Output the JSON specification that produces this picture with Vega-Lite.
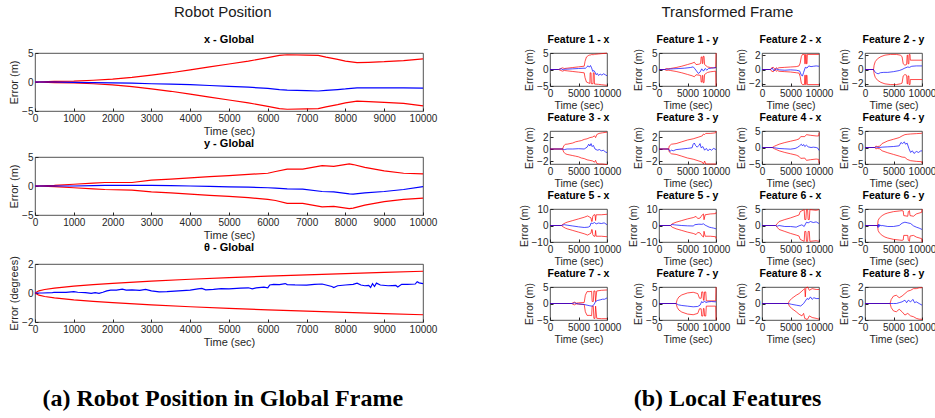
{
"$schema": "https://vega.github.io/schema/vega-lite/v6.json",
"background": "white",
"padding": {"left": 8, "top": 4, "right": 4, "bottom": 4},
"datasets": {
"xg": [
{"t":0,"up":0,"lo":0,"val":0},{"t":500,"up":0.1,"lo":-0.1,"val":0},{"t":1000,"up":0.15,"lo":-0.15,"val":-0.05},{"t":1500,"up":0.3,"lo":-0.3,"val":-0.1},{"t":2000,"up":0.5,"lo":-0.5,"val":-0.15},{"t":2500,"up":0.8,"lo":-0.8,"val":-0.2},{"t":3000,"up":1.2,"lo":-1.2,"val":-0.3},{"t":3500,"up":1.6,"lo":-1.6,"val":-0.35},{"t":4000,"up":2.1,"lo":-2.1,"val":-0.45},{"t":4500,"up":2.6,"lo":-2.6,"val":-0.6},{"t":5000,"up":3.1,"lo":-3.1,"val":-0.75},{"t":5500,"up":3.6,"lo":-3.6,"val":-0.9},{"t":6000,"up":4.2,"lo":-4.2,"val":-1.1},{"t":6300,"up":4.6,"lo":-4.6,"val":-1.3},{"t":6500,"up":4.7,"lo":-4.7,"val":-1.4},{"t":7000,"up":4.65,"lo":-4.65,"val":-1.5},{"t":7300,"up":4.6,"lo":-4.6,"val":-1.55},{"t":7500,"up":4.3,"lo":-4.3,"val":-1.45},{"t":7800,"up":3.9,"lo":-3.9,"val":-1.3},{"t":8000,"up":3.6,"lo":-3.6,"val":-1.2},{"t":8300,"up":3.35,"lo":-3.3,"val":-1.0},{"t":8600,"up":3.4,"lo":-3.4,"val":-1.0},{"t":9000,"up":3.5,"lo":-3.5,"val":-1.0},{"t":9500,"up":3.7,"lo":-3.7,"val":-1.0},{"t":10000,"up":4.0,"lo":-4.1,"val":-1.05}
],
"yg": [
{"t":0,"up":0,"lo":0,"val":0},{"t":500,"up":0.1,"lo":-0.1,"val":0},{"t":1000,"up":0.3,"lo":-0.3,"val":0},{"t":1500,"up":0.5,"lo":-0.5,"val":0.05},{"t":1800,"up":0.6,"lo":-0.6,"val":0.1},{"t":2500,"up":0.6,"lo":-0.7,"val":0.1},{"t":3000,"up":1.0,"lo":-1.0,"val":0.1},{"t":3500,"up":1.2,"lo":-1.2,"val":0.05},{"t":4000,"up":1.4,"lo":-1.4,"val":0},{"t":4500,"up":1.6,"lo":-1.6,"val":-0.05},{"t":5000,"up":1.8,"lo":-1.8,"val":-0.15},{"t":5500,"up":2.0,"lo":-2.0,"val":-0.2},{"t":6000,"up":2.2,"lo":-2.3,"val":-0.3},{"t":6200,"up":2.5,"lo":-2.5,"val":-0.35},{"t":6500,"up":2.9,"lo":-3.0,"val":-0.5},{"t":6900,"up":2.9,"lo":-3.0,"val":-0.55},{"t":7400,"up":3.5,"lo":-3.6,"val":-0.95},{"t":7700,"up":3.4,"lo":-3.5,"val":-1.0},{"t":8100,"up":3.8,"lo":-3.9,"val":-1.35},{"t":8200,"up":3.7,"lo":-3.8,"val":-1.4},{"t":8500,"up":3.2,"lo":-3.3,"val":-1.2},{"t":9000,"up":2.6,"lo":-2.7,"val":-0.95},{"t":9500,"up":2.2,"lo":-2.3,"val":-0.6},{"t":10000,"up":2.1,"lo":-2.1,"val":-0.1}
],
"tg": [
{"t":0,"up":0,"lo":0},{"t":100,"up":0.15,"lo":-0.15},{"t":250,"up":0.24,"lo":-0.24},{"t":500,"up":0.34,"lo":-0.34},{"t":1000,"up":0.48,"lo":-0.48},{"t":1500,"up":0.58,"lo":-0.58},{"t":2000,"up":0.67,"lo":-0.67},{"t":3000,"up":0.82,"lo":-0.82},{"t":4000,"up":0.95,"lo":-0.95},{"t":5000,"up":1.06,"lo":-1.06},{"t":6000,"up":1.16,"lo":-1.16},{"t":7000,"up":1.25,"lo":-1.25},{"t":8000,"up":1.34,"lo":-1.34},{"t":9000,"up":1.42,"lo":-1.42},{"t":10000,"up":1.5,"lo":-1.5},
{"t":0,"val":0},{"t":200,"val":0},{"t":450,"val":0.02},{"t":500,"val":0.05},{"t":800,"val":0.05},{"t":1000,"val":0.1},{"t":1100,"val":0.05},{"t":1300,"val":0.02},{"t":1450,"val":-0.03},{"t":1550,"val":0.02},{"t":1650,"val":-0.02},{"t":1750,"val":0.05},{"t":1850,"val":0.15},{"t":1950,"val":0.2},{"t":2100,"val":0.2},{"t":2250,"val":0.27},{"t":2350,"val":0.2},{"t":2500,"val":0.22},{"t":2700,"val":0.18},{"t":2850,"val":0.25},{"t":3000,"val":0.15},{"t":3200,"val":0.08},{"t":3400,"val":0.1},{"t":3700,"val":0.15},{"t":4000,"val":0.2},{"t":4200,"val":0.28},{"t":4300,"val":0.32},{"t":4400,"val":0.22},{"t":4600,"val":0.25},{"t":4800,"val":0.3},{"t":5000,"val":0.28},{"t":5300,"val":0.33},{"t":5500,"val":0.36},{"t":5600,"val":0.28},{"t":5700,"val":0.35},{"t":5900,"val":0.4},{"t":6000,"val":0.35},{"t":6050,"val":0.55},{"t":6150,"val":0.6},{"t":6300,"val":0.58},{"t":6450,"val":0.65},{"t":6500,"val":0.58},{"t":6700,"val":0.56},{"t":7000,"val":0.55},{"t":7200,"val":0.6},{"t":7400,"val":0.62},{"t":7500,"val":0.55},{"t":7650,"val":0.45},{"t":7700,"val":0.38},{"t":7800,"val":0.5},{"t":8000,"val":0.55},{"t":8200,"val":0.6},{"t":8300,"val":0.68},{"t":8400,"val":0.55},{"t":8500,"val":0.5},{"t":8600,"val":0.52},{"t":8650,"val":0.38},{"t":8700,"val":0.65},{"t":8750,"val":0.45},{"t":8800,"val":0.68},{"t":8900,"val":0.55},{"t":9100,"val":0.5},{"t":9300,"val":0.52},{"t":9350,"val":0.42},{"t":9450,"val":0.6},{"t":9600,"val":0.6},{"t":9800,"val":0.62},{"t":9850,"val":0.78},{"t":9900,"val":0.7},{"t":10000,"val":0.65}
],
"f1x": [
{"t":0,"up":0,"lo":0},{"t":1500,"up":0,"lo":0},{"t":1900,"up":0.3,"lo":-0.3},{"t":2200,"up":0.5,"lo":-0.5},{"t":2500,"up":0.3,"lo":-0.3},{"t":3000,"up":0.4,"lo":-0.4},{"t":4000,"up":0.6,"lo":-0.6},{"t":5000,"up":0.8,"lo":-0.8},{"t":6000,"up":1.0,"lo":-1.0},{"t":6150,"up":2.5,"lo":-2.5},{"t":6400,"up":3.8,"lo":-3.8},{"t":6800,"up":4.3,"lo":-4.1},{"t":7000,"up":4.4,"lo":-4.2},{"t":7050,"up":4.4,"lo":-1.0},{"t":7200,"up":4.4,"lo":-1.0},{"t":7250,"up":4.5,"lo":-4.3},{"t":7550,"up":4.5,"lo":-4.3},{"t":7600,"up":4.5,"lo":-1.0},{"t":7750,"up":4.5,"lo":-1.0},{"t":7800,"up":4.6,"lo":-4.4},{"t":8500,"up":4.7,"lo":-4.5},{"t":9000,"up":4.8,"lo":-4.6},{"t":10000,"up":4.95,"lo":-4.8},
{"t":0,"val":0},{"t":1500,"val":0},{"t":2000,"val":0.2},{"t":2300,"val":-0.1},{"t":2600,"val":0.1},{"t":3000,"val":0.1},{"t":4000,"val":0.2},{"t":5000,"val":0.3},{"t":6000,"val":0.4},{"t":6200,"val":0.3},{"t":6500,"val":0.9},{"t":6700,"val":1.1},{"t":6900,"val":0.7},{"t":7100,"val":1.2},{"t":7300,"val":0.5},{"t":7500,"val":-0.6},{"t":7700,"val":-0.3},{"t":7900,"val":-0.8},{"t":8100,"val":-1.6},{"t":8300,"val":-1.2},{"t":8500,"val":-1.8},{"t":8800,"val":-1.4},{"t":9100,"val":-1.7},{"t":9400,"val":-1.3},{"t":9700,"val":-1.6},{"t":10000,"val":-1.9}
],
"f1y": [
{"t":0,"up":0,"lo":0},{"t":1000,"up":0,"lo":0},{"t":1300,"up":0.3,"lo":-0.3},{"t":1600,"up":0.2,"lo":-0.2},{"t":2000,"up":0.3,"lo":-0.3},{"t":3000,"up":0.6,"lo":-0.6},{"t":4000,"up":1.0,"lo":-1.0},{"t":5000,"up":1.5,"lo":-1.5},{"t":5800,"up":1.9,"lo":-1.9},{"t":6200,"up":2.2,"lo":-2.2},{"t":6500,"up":1.5,"lo":-1.6},{"t":7000,"up":1.6,"lo":-1.7},{"t":7300,"up":1.8,"lo":-1.8},{"t":7400,"up":3.8,"lo":-3.8},{"t":7550,"up":3.8,"lo":-3.8},{"t":7600,"up":1.8,"lo":-1.8},{"t":7700,"up":1.8,"lo":-1.8},{"t":7750,"up":4.0,"lo":-4.0},{"t":7900,"up":4.0,"lo":-4.0},{"t":8000,"up":1.5,"lo":-1.5},{"t":8500,"up":0.8,"lo":-0.9},{"t":9000,"up":0.6,"lo":-0.7},{"t":9500,"up":0.5,"lo":-0.6},{"t":9950,"up":0.5,"lo":-0.5},{"t":10000,"up":5,"lo":-5},
{"t":0,"val":0},{"t":1000,"val":0},{"t":1500,"val":0.1},{"t":2500,"val":0.2},{"t":3500,"val":0.3},{"t":4500,"val":0.4},{"t":5500,"val":0.6},{"t":6000,"val":0.8},{"t":6300,"val":0.2},{"t":6600,"val":-0.5},{"t":6900,"val":-1.2},{"t":7200,"val":-0.8},{"t":7500,"val":0.2},{"t":7800,"val":-0.5},{"t":8100,"val":0.3},{"t":8400,"val":-0.2},{"t":8700,"val":0.3},{"t":9200,"val":0.4},{"t":9600,"val":0.5},{"t":10000,"val":0.6}
],
"f2x": [
{"t":0,"up":0,"lo":0},{"t":1500,"up":0,"lo":0},{"t":1700,"up":0.25,"lo":-0.25},{"t":2000,"up":0.3,"lo":-0.3},{"t":2300,"up":0,"lo":0},{"t":2500,"up":0.25,"lo":-0.25},{"t":2700,"up":0.15,"lo":-0.15},{"t":3000,"up":0.25,"lo":-0.25},{"t":4000,"up":0.3,"lo":-0.3},{"t":5000,"up":0.35,"lo":-0.35},{"t":6000,"up":0.4,"lo":-0.45},{"t":6500,"up":0.5,"lo":-0.5},{"t":6700,"up":0.9,"lo":-1.0},{"t":6900,"up":1.8,"lo":-1.9},{"t":7100,"up":2.1,"lo":-2.1},{"t":7450,"up":2.1,"lo":-2.1},{"t":7500,"up":0.8,"lo":-0.8},{"t":7600,"up":0.8,"lo":-0.8},{"t":7650,"up":2.1,"lo":-2.1},{"t":7750,"up":2.1,"lo":-2.1},{"t":7800,"up":0.8,"lo":-0.8},{"t":7900,"up":0.8,"lo":-0.8},{"t":7950,"up":2.1,"lo":-2.1},{"t":10000,"up":2.1,"lo":-2.1},
{"t":0,"val":0},{"t":1500,"val":0},{"t":1800,"val":0.2},{"t":2100,"val":-0.2},{"t":2400,"val":0.1},{"t":3000,"val":-0.05},{"t":4000,"val":-0.1},{"t":5000,"val":-0.05},{"t":6000,"val":-0.1},{"t":6600,"val":-0.2},{"t":6900,"val":-0.8},{"t":7100,"val":-0.9},{"t":7300,"val":-0.4},{"t":7600,"val":0.3},{"t":7900,"val":0.2},{"t":8200,"val":0.5},{"t":8600,"val":0.4},{"t":9000,"val":0.45},{"t":9500,"val":0.5},{"t":10000,"val":0.45}
],
"f2y": [
{"t":0,"up":0,"lo":0},{"t":1500,"up":0,"lo":0},{"t":1600,"up":0.6,"lo":-0.6},{"t":1800,"up":1.1,"lo":-1.1},{"t":2200,"up":1.5,"lo":-1.5},{"t":2800,"up":1.8,"lo":-1.8},{"t":3500,"up":2.0,"lo":-2.0},{"t":4500,"up":2.1,"lo":-2.1},{"t":5500,"up":2.1,"lo":-2.1},{"t":6200,"up":2.0,"lo":-2.0},{"t":6500,"up":1.8,"lo":-1.9},{"t":6700,"up":0.8,"lo":-0.9},{"t":7000,"up":0.6,"lo":-0.7},{"t":7300,"up":0.7,"lo":-0.8},{"t":7400,"up":2.0,"lo":-2.0},{"t":7500,"up":2.0,"lo":-2.0},{"t":7550,"up":0.8,"lo":-0.9},{"t":7700,"up":0.8,"lo":-0.9},{"t":7750,"up":2.1,"lo":-2.1},{"t":7900,"up":2.1,"lo":-2.1},{"t":7950,"up":1.3,"lo":-1.4},{"t":10000,"up":1.3,"lo":-1.4},
{"t":0,"val":0},{"t":1500,"val":0},{"t":1700,"val":-0.3},{"t":2000,"val":-0.5},{"t":2300,"val":-0.6},{"t":2700,"val":-0.45},{"t":3300,"val":-0.4},{"t":4000,"val":-0.4},{"t":5000,"val":-0.3},{"t":6000,"val":-0.15},{"t":6500,"val":0},{"t":7000,"val":0.2},{"t":7500,"val":0.35},{"t":7800,"val":0.3},{"t":8200,"val":0.45},{"t":9000,"val":0.5},{"t":10000,"val":0.5}
],
"f3x": [
{"t":0,"up":0,"lo":0},{"t":2200,"up":0,"lo":0},{"t":2400,"up":0.5,"lo":-0.5},{"t":2700,"up":0.8,"lo":-0.8},{"t":3000,"up":0.8,"lo":-0.9},{"t":3500,"up":0.9,"lo":-1.0},{"t":4000,"up":1.0,"lo":-1.1},{"t":4500,"up":1.2,"lo":-1.2},{"t":5000,"up":1.3,"lo":-1.3},{"t":5500,"up":1.4,"lo":-1.5},{"t":6000,"up":1.6,"lo":-1.6},{"t":6500,"up":1.7,"lo":-1.8},{"t":7000,"up":1.9,"lo":-1.9},{"t":7500,"up":2.0,"lo":-2.0},{"t":7800,"up":2.2,"lo":-2.2},{"t":8000,"up":1.9,"lo":-1.9},{"t":8200,"up":2.4,"lo":-2.4},{"t":8600,"up":2.6,"lo":-2.5},{"t":9200,"up":2.7,"lo":-2.5},{"t":10000,"up":2.8,"lo":-2.6},
{"t":0,"val":0},{"t":2200,"val":0},{"t":2500,"val":-0.1},{"t":3000,"val":0},{"t":4000,"val":0},{"t":5000,"val":0.05},{"t":6000,"val":0},{"t":6500,"val":0.3},{"t":6800,"val":0.8},{"t":7000,"val":0.5},{"t":7200,"val":0.9},{"t":7400,"val":0.4},{"t":7600,"val":0.6},{"t":7900,"val":0},{"t":8300,"val":-0.2},{"t":8700,"val":-0.1},{"t":9000,"val":-0.3},{"t":9400,"val":-0.2},{"t":9700,"val":-0.5},{"t":10000,"val":-0.6}
],
"f3y": [
{"t":0,"up":0,"lo":0},{"t":1700,"up":0,"lo":0},{"t":1800,"up":0.5,"lo":-0.5},{"t":2200,"up":0.8,"lo":-0.8},{"t":3000,"up":0.9,"lo":-0.9},{"t":4000,"up":1.2,"lo":-1.2},{"t":5000,"up":1.5,"lo":-1.5},{"t":6000,"up":1.7,"lo":-1.7},{"t":7000,"up":2.0,"lo":-2.0},{"t":7600,"up":2.2,"lo":-2.2},{"t":7800,"up":2.5,"lo":-2.5},{"t":8000,"up":2.4,"lo":-2.0},{"t":8200,"up":2.6,"lo":-2.5},{"t":9000,"up":2.6,"lo":-2.5},{"t":9950,"up":2.7,"lo":-2.5},{"t":10000,"up":3,"lo":-2.5},
{"t":0,"val":0},{"t":1700,"val":0},{"t":1900,"val":-0.4},{"t":2200,"val":-0.2},{"t":2500,"val":-0.3},{"t":3000,"val":-0.1},{"t":4000,"val":0},{"t":5000,"val":0.1},{"t":5800,"val":0.2},{"t":6000,"val":0.8},{"t":6200,"val":1.0},{"t":6400,"val":0.6},{"t":6700,"val":0.3},{"t":7000,"val":0.6},{"t":7200,"val":0.9},{"t":7400,"val":0.2},{"t":7700,"val":0.4},{"t":8000,"val":-0.2},{"t":8300,"val":0.1},{"t":8600,"val":-0.3},{"t":8900,"val":0},{"t":9200,"val":-0.2},{"t":9600,"val":0.1},{"t":10000,"val":-0.1}
],
"f4x": [
{"t":0,"up":0,"lo":0},{"t":1800,"up":0,"lo":0},{"t":2200,"up":0.4,"lo":-0.4},{"t":2600,"up":0.7,"lo":-0.7},{"t":3000,"up":1.0,"lo":-1.0},{"t":4000,"up":1.5,"lo":-1.5},{"t":5000,"up":1.9,"lo":-1.9},{"t":6000,"up":2.3,"lo":-2.3},{"t":6500,"up":2.6,"lo":-2.7},{"t":6800,"up":3.3,"lo":-3.3},{"t":7500,"up":3.3,"lo":-3.2},{"t":7800,"up":3.9,"lo":-3.9},{"t":8500,"up":3.7,"lo":-3.7},{"t":9500,"up":3.5,"lo":-3.5},{"t":9950,"up":3.5,"lo":-3.6},{"t":10000,"up":4.5,"lo":-4.8},
{"t":0,"val":0},{"t":1800,"val":0},{"t":2200,"val":-0.1},{"t":3000,"val":-0.3},{"t":4000,"val":-0.4},{"t":5000,"val":-0.5},{"t":5800,"val":-0.3},{"t":6200,"val":0},{"t":6600,"val":0.5},{"t":6900,"val":1.0},{"t":7100,"val":0.5},{"t":7300,"val":0.9},{"t":7500,"val":0.3},{"t":7800,"val":0.7},{"t":8100,"val":0.2},{"t":8600,"val":0},{"t":9000,"val":0.1},{"t":9500,"val":0},{"t":9800,"val":-0.2},{"t":10000,"val":-0.9}
],
"f4y": [
{"t":0,"up":0,"lo":0},{"t":1700,"up":0,"lo":0},{"t":1900,"up":0.4,"lo":-0.4},{"t":2200,"up":0.3,"lo":-0.3},{"t":2600,"up":0.4,"lo":-0.4},{"t":3000,"up":1.2,"lo":-1.0},{"t":4000,"up":2.0,"lo":-1.6},{"t":5000,"up":2.5,"lo":-2.1},{"t":6000,"up":3.0,"lo":-2.6},{"t":6500,"up":3.5,"lo":-2.9},{"t":7000,"up":3.9,"lo":-3.0},{"t":7400,"up":4.0,"lo":-3.6},{"t":8000,"up":4.1,"lo":-4.0},{"t":9000,"up":4.2,"lo":-4.2},{"t":9950,"up":4.3,"lo":-4.3},{"t":10000,"up":4.5,"lo":-4.8},
{"t":0,"val":0},{"t":1700,"val":0},{"t":2000,"val":0.1},{"t":2500,"val":0},{"t":3000,"val":0.1},{"t":4000,"val":0.2},{"t":5000,"val":0.3},{"t":6000,"val":0.5},{"t":6300,"val":1.5},{"t":6600,"val":1.2},{"t":6900,"val":1.7},{"t":7100,"val":1.0},{"t":7400,"val":1.3},{"t":7700,"val":-0.3},{"t":8000,"val":-1.5},{"t":8300,"val":-1.0},{"t":8600,"val":-1.8},{"t":9000,"val":-1.2},{"t":9400,"val":-1.5},{"t":9700,"val":-1.1},{"t":10000,"val":-1.0}
],
"f5x": [
{"t":0,"up":0,"lo":0},{"t":2000,"up":0,"lo":0},{"t":2300,"up":0.8,"lo":-0.8},{"t":2700,"up":1.6,"lo":-1.6},{"t":3000,"up":2.0,"lo":-2.0},{"t":4000,"up":3.0,"lo":-3.0},{"t":5000,"up":4.0,"lo":-4.0},{"t":6000,"up":5.0,"lo":-5.0},{"t":6600,"up":5.8,"lo":-5.8},{"t":7000,"up":5.0,"lo":-5.0},{"t":7200,"up":4.6,"lo":-4.6},{"t":7300,"up":2.5,"lo":-2.5},{"t":7400,"up":2.5,"lo":-2.5},{"t":7500,"up":5.5,"lo":-5.5},{"t":7700,"up":6.5,"lo":-6.5},{"t":7900,"up":6.5,"lo":-6.5},{"t":8000,"up":3.0,"lo":-3.0},{"t":8100,"up":6.5,"lo":-6.5},{"t":9000,"up":6.5,"lo":-6.5},{"t":10000,"up":6.8,"lo":-6.8},
{"t":0,"val":0},{"t":2000,"val":0},{"t":2500,"val":0.5},{"t":3000,"val":0.2},{"t":4000,"val":-0.3},{"t":5000,"val":-0.8},{"t":6000,"val":-1.2},{"t":6700,"val":-1.0},{"t":7000,"val":-0.5},{"t":7200,"val":1.5},{"t":7500,"val":1.2},{"t":7800,"val":1.8},{"t":8100,"val":1.0},{"t":8500,"val":1.5},{"t":9000,"val":1.2},{"t":9500,"val":1.6},{"t":10000,"val":0.5}
],
"f5y": [
{"t":0,"up":0,"lo":0},{"t":2000,"up":0,"lo":0},{"t":2300,"up":1.0,"lo":-1.0},{"t":3000,"up":2.0,"lo":-2.0},{"t":4000,"up":3.0,"lo":-3.0},{"t":5000,"up":4.0,"lo":-4.0},{"t":6000,"up":4.8,"lo":-4.8},{"t":6500,"up":5.5,"lo":-5.5},{"t":6800,"up":4.2,"lo":-4.2},{"t":7200,"up":4.5,"lo":-4.5},{"t":7400,"up":5.5,"lo":-5.5},{"t":7600,"up":6.5,"lo":-6.5},{"t":7800,"up":7.0,"lo":-7.0},{"t":7900,"up":3.5,"lo":-3.5},{"t":8100,"up":6.5,"lo":-6.5},{"t":9000,"up":7.0,"lo":-6.5},{"t":9950,"up":7.2,"lo":-6.8},{"t":10000,"up":8,"lo":-8},
{"t":0,"val":0},{"t":2000,"val":0},{"t":2300,"val":0.6},{"t":2700,"val":0.4},{"t":3000,"val":0.3},{"t":4000,"val":0},{"t":5000,"val":-0.2},{"t":6000,"val":-0.3},{"t":6300,"val":0.5},{"t":7000,"val":0.8},{"t":7500,"val":0.7},{"t":7800,"val":1.0},{"t":8100,"val":0.2},{"t":8400,"val":-0.3},{"t":8800,"val":-1.0},{"t":9200,"val":-1.3},{"t":9600,"val":-1.6},{"t":10000,"val":-2.0}
],
"f6x": [
{"t":0,"up":0,"lo":0},{"t":2400,"up":0,"lo":0},{"t":2700,"up":0.6,"lo":-0.6},{"t":3000,"up":1.2,"lo":-1.2},{"t":4000,"up":1.8,"lo":-1.8},{"t":5000,"up":2.3,"lo":-2.4},{"t":6000,"up":2.9,"lo":-2.9},{"t":6500,"up":3.2,"lo":-3.2},{"t":6700,"up":4.2,"lo":-4.2},{"t":7400,"up":4.8,"lo":-4.8},{"t":7500,"up":1.8,"lo":-1.8},{"t":7700,"up":1.8,"lo":-1.8},{"t":7800,"up":4.8,"lo":-4.8},{"t":8000,"up":4.8,"lo":-4.8},{"t":8100,"up":1.8,"lo":-1.8},{"t":8300,"up":1.8,"lo":-1.8},{"t":8400,"up":4.8,"lo":-4.8},{"t":9500,"up":4.6,"lo":-4.6},{"t":10000,"up":4.8,"lo":-4.8},
{"t":0,"val":0},{"t":2400,"val":0},{"t":2700,"val":-0.2},{"t":3000,"val":0},{"t":4000,"val":-0.3},{"t":5000,"val":-0.3},{"t":6000,"val":-0.5},{"t":6500,"val":-0.1},{"t":7000,"val":0.2},{"t":7400,"val":-0.3},{"t":7800,"val":1.0},{"t":8100,"val":0.8},{"t":8500,"val":1.2},{"t":9000,"val":0.9},{"t":9500,"val":1.1},{"t":10000,"val":0.6}
],
"f6y": [
{"t":0,"up":0,"lo":0},{"t":2200,"up":0,"lo":0},{"t":2300,"up":1.5,"lo":-1.5},{"t":2500,"up":2.2,"lo":-2.2},{"t":3000,"up":3.0,"lo":-3.0},{"t":3500,"up":3.5,"lo":-3.5},{"t":4000,"up":3.8,"lo":-3.8},{"t":5000,"up":4.2,"lo":-4.2},{"t":6000,"up":4.4,"lo":-4.4},{"t":6500,"up":4.5,"lo":-4.5},{"t":6700,"up":4.4,"lo":-4.4},{"t":6800,"up":3.0,"lo":-3.0},{"t":7500,"up":2.8,"lo":-3.0},{"t":7600,"up":4.2,"lo":-4.5},{"t":7800,"up":4.5,"lo":-4.8},{"t":7900,"up":3.0,"lo":-3.2},{"t":8500,"up":2.8,"lo":-3.0},{"t":9000,"up":3.5,"lo":-3.5},{"t":9950,"up":4.0,"lo":-4.0},{"t":10000,"up":5,"lo":-5},
{"t":0,"val":0},{"t":2200,"val":0},{"t":2300,"val":-0.6},{"t":2400,"val":0.4},{"t":2500,"val":-0.3},{"t":2600,"val":0.2},{"t":2800,"val":-0.1},{"t":3000,"val":0},{"t":4000,"val":-0.3},{"t":5000,"val":-0.3},{"t":6000,"val":0},{"t":6500,"val":0.7},{"t":7000,"val":1.0},{"t":7500,"val":0.8},{"t":8000,"val":0.6},{"t":8500,"val":-0.1},{"t":9000,"val":-0.5},{"t":9500,"val":-0.8},{"t":10000,"val":-1.2}
],
"f7x": [
{"t":0,"up":0,"lo":0},{"t":3800,"up":0,"lo":0},{"t":4000,"up":0.2,"lo":-0.2},{"t":4300,"up":0.4,"lo":-0.4},{"t":4600,"up":0.1,"lo":-0.1},{"t":5000,"up":0.2,"lo":-0.2},{"t":6000,"up":0.3,"lo":-0.3},{"t":6200,"up":2.5,"lo":-2.5},{"t":6500,"up":3.6,"lo":-3.6},{"t":7000,"up":3.6,"lo":-3.6},{"t":7300,"up":3.7,"lo":-3.7},{"t":7400,"up":0.6,"lo":-0.8},{"t":7600,"up":0.6,"lo":-0.8},{"t":7700,"up":3.8,"lo":-4.5},{"t":7900,"up":3.8,"lo":-4.5},{"t":8000,"up":0.6,"lo":-0.8},{"t":8200,"up":3.8,"lo":-4.5},{"t":9000,"up":4.0,"lo":-4.6},{"t":10000,"up":4.1,"lo":-4.6},
{"t":0,"val":0},{"t":4000,"val":0},{"t":4300,"val":0.2},{"t":4600,"val":0},{"t":5000,"val":-0.1},{"t":6000,"val":-0.3},{"t":6500,"val":-0.5},{"t":7000,"val":-0.7},{"t":7400,"val":-0.8},{"t":7700,"val":-0.4},{"t":8000,"val":0.6},{"t":8300,"val":0.9},{"t":8800,"val":1.1},{"t":9200,"val":1.3},{"t":9600,"val":1.3},{"t":10000,"val":1.7}
],
"f7y": [
{"t":0,"up":0,"lo":0},{"t":3000,"up":0,"lo":0},{"t":3200,"up":1.2,"lo":-1.2},{"t":3500,"up":2.0,"lo":-2.0},{"t":4000,"up":2.6,"lo":-2.6},{"t":5000,"up":3.2,"lo":-3.2},{"t":6000,"up":3.4,"lo":-3.4},{"t":6800,"up":3.0,"lo":-3.0},{"t":7100,"up":1.6,"lo":-1.6},{"t":7400,"up":1.6,"lo":-1.6},{"t":7500,"up":3.5,"lo":-3.8},{"t":7700,"up":3.5,"lo":-3.8},{"t":7800,"up":1.0,"lo":-1.5},{"t":7900,"up":1.0,"lo":-1.5},{"t":8000,"up":3.5,"lo":-3.8},{"t":8200,"up":3.5,"lo":-3.8},{"t":8300,"up":0.8,"lo":-0.8},{"t":9950,"up":0.8,"lo":-0.8},{"t":10000,"up":5,"lo":-5},
{"t":0,"val":0},{"t":3000,"val":0},{"t":3400,"val":-0.4},{"t":4000,"val":-0.6},{"t":5000,"val":-0.8},{"t":6000,"val":-1.0},{"t":6800,"val":-0.9},{"t":7200,"val":-0.5},{"t":7500,"val":0.6},{"t":7700,"val":0.2},{"t":8000,"val":0.8},{"t":8200,"val":0.3},{"t":8600,"val":0.5},{"t":9200,"val":0.6},{"t":10000,"val":0.5}
],
"f8x": [
{"t":0,"up":0,"lo":0},{"t":4600,"up":0,"lo":0},{"t":4800,"up":0.3,"lo":-0.3},{"t":5200,"up":0.6,"lo":-0.6},{"t":5600,"up":0.8,"lo":-0.8},{"t":6000,"up":1.0,"lo":-1.0},{"t":6500,"up":1.2,"lo":-1.3},{"t":7000,"up":1.5,"lo":-1.5},{"t":7300,"up":1.7,"lo":-1.2},{"t":7500,"up":1.8,"lo":-1.8},{"t":7600,"up":0.8,"lo":-1.8},{"t":7700,"up":1.9,"lo":-1.9},{"t":8000,"up":2.0,"lo":-1.9},{"t":8300,"up":1.6,"lo":-1.5},{"t":8800,"up":1.8,"lo":-1.7},{"t":9500,"up":1.7,"lo":-1.8},{"t":10000,"up":1.7,"lo":-1.9},
{"t":0,"val":0},{"t":4600,"val":0},{"t":5200,"val":-0.1},{"t":6000,"val":-0.2},{"t":6800,"val":-0.3},{"t":7300,"val":0},{"t":7600,"val":0.3},{"t":7900,"val":0.6},{"t":8200,"val":0.5},{"t":8500,"val":0.8},{"t":8800,"val":0.5},{"t":9100,"val":0.7},{"t":9500,"val":0.6},{"t":10000,"val":0.6}
],
"f8y": [
{"t":0,"up":0,"lo":0},{"t":4400,"up":0,"lo":0},{"t":4600,"up":0.5,"lo":-0.5},{"t":5000,"up":0.9,"lo":-0.9},{"t":5500,"up":1.0,"lo":-1.0},{"t":6000,"up":0.7,"lo":-0.7},{"t":6500,"up":0.9,"lo":-1.0},{"t":7000,"up":1.2,"lo":-1.4},{"t":7500,"up":1.5,"lo":-1.2},{"t":8000,"up":1.6,"lo":-1.5},{"t":8500,"up":1.8,"lo":-1.6},{"t":9000,"up":1.8,"lo":-1.8},{"t":9500,"up":1.9,"lo":-1.9},{"t":9950,"up":1.9,"lo":-1.9},{"t":10000,"up":2,"lo":-2},
{"t":0,"val":0},{"t":4400,"val":0},{"t":5000,"val":0},{"t":5500,"val":0},{"t":6000,"val":0.1},{"t":6500,"val":0.2},{"t":7000,"val":0.4},{"t":7300,"val":0.1},{"t":7600,"val":0.4},{"t":8000,"val":0.2},{"t":8400,"val":0.5},{"t":8700,"val":0.1},{"t":9000,"val":0.2},{"t":9500,"val":0},{"t":10000,"val":-0.2}
]
},
"spacing": 80,
"hconcat": [
{"title": {"text": "(a) Robot Position in Global Frame", "orient": "bottom", "anchor": "middle", "font": "Liberation Serif", "fontSize": 24, "fontWeight": "bold", "color": "#000000", "offset": 40},
 "vconcat": [
 {"title": {"text": "Robot Position", "anchor": "middle", "fontSize": 15, "fontWeight": "normal", "color": "#1a1a1a", "offset": 14},
  "spacing": 0,
  "vconcat": [
  {"title": {"text": "x - Global", "fontSize": 11}, "width": 388, "height": 58, "data": {"name": "xg"},
   "transform": [{"fold": ["up","lo","val"]},{"filter": "isValid(datum.value)"}],
   "mark": {"type": "line", "strokeWidth": 1.2},
   "encoding": {
    "x": {"field": "t", "type": "quantitative", "scale": {"domain": [0,10000], "nice": false}, "axis": {"values": [0,1000,2000,3000,4000,5000,6000,7000,8000,9000,10000], "format": "d", "title": "Time (sec)", "titleFontSize": 11}},
    "y": {"field": "value", "type": "quantitative", "scale": {"domain": [-5,5], "nice": false}, "axis": {"values": [-5,0,5], "title": "Error (m)", "titleFontSize": 11}},
    "color": {"field": "key", "type": "nominal", "scale": {"domain": ["up","lo","val"], "range": ["#ff0000","#ff0000","#0000ff"]}, "legend": null}}},
  {"title": {"text": "y - Global", "fontSize": 11}, "width": 388, "height": 58, "data": {"name": "yg"},
   "transform": [{"fold": ["up","lo","val"]},{"filter": "isValid(datum.value)"}],
   "mark": {"type": "line", "strokeWidth": 1.2},
   "encoding": {
    "x": {"field": "t", "type": "quantitative", "scale": {"domain": [0,10000], "nice": false}, "axis": {"values": [0,1000,2000,3000,4000,5000,6000,7000,8000,9000,10000], "format": "d", "title": "Time (sec)", "titleFontSize": 11}},
    "y": {"field": "value", "type": "quantitative", "scale": {"domain": [-5,5], "nice": false}, "axis": {"values": [-5,0,5], "title": "Error (m)", "titleFontSize": 11}},
    "color": {"field": "key", "type": "nominal", "scale": {"domain": ["up","lo","val"], "range": ["#ff0000","#ff0000","#0000ff"]}, "legend": null}}},
  {"title": {"text": "θ - Global", "fontSize": 11}, "width": 388, "height": 58, "data": {"name": "tg"},
   "transform": [{"fold": ["up","lo","val"]},{"filter": "isValid(datum.value)"}],
   "mark": {"type": "line", "strokeWidth": 1.2},
   "encoding": {
    "x": {"field": "t", "type": "quantitative", "scale": {"domain": [0,10000], "nice": false}, "axis": {"values": [0,1000,2000,3000,4000,5000,6000,7000,8000,9000,10000], "format": "d", "title": "Time (sec)", "titleFontSize": 11}},
    "y": {"field": "value", "type": "quantitative", "scale": {"domain": [-2,2], "nice": false}, "axis": {"values": [-2,0,2], "title": "Error (degrees)", "titleFontSize": 11}},
    "color": {"field": "key", "type": "nominal", "scale": {"domain": ["up","lo","val"], "range": ["#ff0000","#ff0000","#0000ff"]}, "legend": null}}}
  ]}
 ]},
{"title": {"text": "(b) Local Features", "orient": "bottom", "anchor": "middle", "font": "Liberation Serif", "fontSize": 24, "fontWeight": "bold", "color": "#000000", "offset": 42},
 "vconcat": [
 {"title": {"text": "Transformed Frame", "anchor": "middle", "fontSize": 15, "fontWeight": "normal", "color": "#1a1a1a", "offset": 14},
  "columns": 4,
  "spacing": {"row": 1, "column": 5},
  "concat": [
  {"title": "Feature 1 - x", "width": 57, "height": 33, "data": {"name": "f1x"}, "transform": [{"fold": ["up","lo","val"]},{"filter": "isValid(datum.value)"}], "mark": {"type": "line", "strokeWidth": 0.7},
   "encoding": {"x": {"field": "t", "type": "quantitative", "scale": {"domain": [0,10000], "nice": false}, "axis": {"values": [0,5000,10000], "format": "d", "title": "Time (sec)"}}, "y": {"field": "value", "type": "quantitative", "scale": {"domain": [-5,5], "nice": false}, "axis": {"values": [-5,0,5], "title": "Error (m)"}}, "color": {"field": "key", "type": "nominal", "scale": {"domain": ["up","lo","val"], "range": ["#ff0000","#ff0000","#0000ff"]}, "legend": null}}},
  {"title": "Feature 1 - y", "width": 57, "height": 33, "data": {"name": "f1y"}, "transform": [{"fold": ["up","lo","val"]},{"filter": "isValid(datum.value)"}], "mark": {"type": "line", "strokeWidth": 0.7},
   "encoding": {"x": {"field": "t", "type": "quantitative", "scale": {"domain": [0,10000], "nice": false}, "axis": {"values": [0,5000,10000], "format": "d", "title": "Time (sec)"}}, "y": {"field": "value", "type": "quantitative", "scale": {"domain": [-5,5], "nice": false}, "axis": {"values": [-5,0,5], "title": "Error (m)"}}, "color": {"field": "key", "type": "nominal", "scale": {"domain": ["up","lo","val"], "range": ["#ff0000","#ff0000","#0000ff"]}, "legend": null}}},
  {"title": "Feature 2 - x", "width": 57, "height": 33, "data": {"name": "f2x"}, "transform": [{"fold": ["up","lo","val"]},{"filter": "isValid(datum.value)"}], "mark": {"type": "line", "strokeWidth": 0.7},
   "encoding": {"x": {"field": "t", "type": "quantitative", "scale": {"domain": [0,10000], "nice": false}, "axis": {"values": [0,5000,10000], "format": "d", "title": "Time (sec)"}}, "y": {"field": "value", "type": "quantitative", "scale": {"domain": [-2.3,2.3], "nice": false}, "axis": {"values": [-2,0,2], "title": "Error (m)"}}, "color": {"field": "key", "type": "nominal", "scale": {"domain": ["up","lo","val"], "range": ["#ff0000","#ff0000","#0000ff"]}, "legend": null}}},
  {"title": "Feature 2 - y", "width": 57, "height": 33, "data": {"name": "f2y"}, "transform": [{"fold": ["up","lo","val"]},{"filter": "isValid(datum.value)"}], "mark": {"type": "line", "strokeWidth": 0.7},
   "encoding": {"x": {"field": "t", "type": "quantitative", "scale": {"domain": [0,10000], "nice": false}, "axis": {"values": [0,5000,10000], "format": "d", "title": "Time (sec)"}}, "y": {"field": "value", "type": "quantitative", "scale": {"domain": [-2.3,2.3], "nice": false}, "axis": {"values": [-2,0,2], "title": "Error (m)"}}, "color": {"field": "key", "type": "nominal", "scale": {"domain": ["up","lo","val"], "range": ["#ff0000","#ff0000","#0000ff"]}, "legend": null}}},
  {"title": "Feature 3 - x", "width": 57, "height": 33, "data": {"name": "f3x"}, "transform": [{"fold": ["up","lo","val"]},{"filter": "isValid(datum.value)"}], "mark": {"type": "line", "strokeWidth": 0.7},
   "encoding": {"x": {"field": "t", "type": "quantitative", "scale": {"domain": [0,10000], "nice": false}, "axis": {"values": [0,5000,10000], "format": "d", "title": "Time (sec)"}}, "y": {"field": "value", "type": "quantitative", "scale": {"domain": [-2.5,3], "nice": false}, "axis": {"values": [-2,0,2], "title": "Error (m)"}}, "color": {"field": "key", "type": "nominal", "scale": {"domain": ["up","lo","val"], "range": ["#ff0000","#ff0000","#0000ff"]}, "legend": null}}},
  {"title": "Feature 3 - y", "width": 57, "height": 33, "data": {"name": "f3y"}, "transform": [{"fold": ["up","lo","val"]},{"filter": "isValid(datum.value)"}], "mark": {"type": "line", "strokeWidth": 0.7},
   "encoding": {"x": {"field": "t", "type": "quantitative", "scale": {"domain": [0,10000], "nice": false}, "axis": {"values": [0,5000,10000], "format": "d", "title": "Time (sec)"}}, "y": {"field": "value", "type": "quantitative", "scale": {"domain": [-2.5,3], "nice": false}, "axis": {"values": [-2,0,2], "title": "Error (m)"}}, "color": {"field": "key", "type": "nominal", "scale": {"domain": ["up","lo","val"], "range": ["#ff0000","#ff0000","#0000ff"]}, "legend": null}}},
  {"title": "Feature 4 - x", "width": 57, "height": 33, "data": {"name": "f4x"}, "transform": [{"fold": ["up","lo","val"]},{"filter": "isValid(datum.value)"}], "mark": {"type": "line", "strokeWidth": 0.7},
   "encoding": {"x": {"field": "t", "type": "quantitative", "scale": {"domain": [0,10000], "nice": false}, "axis": {"values": [0,5000,10000], "format": "d", "title": "Time (sec)"}}, "y": {"field": "value", "type": "quantitative", "scale": {"domain": [-5,5], "nice": false}, "axis": {"values": [-5,0,5], "title": "Error (m)"}}, "color": {"field": "key", "type": "nominal", "scale": {"domain": ["up","lo","val"], "range": ["#ff0000","#ff0000","#0000ff"]}, "legend": null}}},
  {"title": "Feature 4 - y", "width": 57, "height": 33, "data": {"name": "f4y"}, "transform": [{"fold": ["up","lo","val"]},{"filter": "isValid(datum.value)"}], "mark": {"type": "line", "strokeWidth": 0.7},
   "encoding": {"x": {"field": "t", "type": "quantitative", "scale": {"domain": [0,10000], "nice": false}, "axis": {"values": [0,5000,10000], "format": "d", "title": "Time (sec)"}}, "y": {"field": "value", "type": "quantitative", "scale": {"domain": [-5,5], "nice": false}, "axis": {"values": [-5,0,5], "title": "Error (m)"}}, "color": {"field": "key", "type": "nominal", "scale": {"domain": ["up","lo","val"], "range": ["#ff0000","#ff0000","#0000ff"]}, "legend": null}}},
  {"title": "Feature 5 - x", "width": 57, "height": 33, "data": {"name": "f5x"}, "transform": [{"fold": ["up","lo","val"]},{"filter": "isValid(datum.value)"}], "mark": {"type": "line", "strokeWidth": 0.7},
   "encoding": {"x": {"field": "t", "type": "quantitative", "scale": {"domain": [0,10000], "nice": false}, "axis": {"values": [0,5000,10000], "format": "d", "title": "Time (sec)"}}, "y": {"field": "value", "type": "quantitative", "scale": {"domain": [-10,10], "nice": false}, "axis": {"values": [-10,0,10], "title": "Error (m)"}}, "color": {"field": "key", "type": "nominal", "scale": {"domain": ["up","lo","val"], "range": ["#ff0000","#ff0000","#0000ff"]}, "legend": null}}},
  {"title": "Feature 5 - y", "width": 57, "height": 33, "data": {"name": "f5y"}, "transform": [{"fold": ["up","lo","val"]},{"filter": "isValid(datum.value)"}], "mark": {"type": "line", "strokeWidth": 0.7},
   "encoding": {"x": {"field": "t", "type": "quantitative", "scale": {"domain": [0,10000], "nice": false}, "axis": {"values": [0,5000,10000], "format": "d", "title": "Time (sec)"}}, "y": {"field": "value", "type": "quantitative", "scale": {"domain": [-10,10], "nice": false}, "axis": {"values": [-10,0,10], "title": "Error (m)"}}, "color": {"field": "key", "type": "nominal", "scale": {"domain": ["up","lo","val"], "range": ["#ff0000","#ff0000","#0000ff"]}, "legend": null}}},
  {"title": "Feature 6 - x", "width": 57, "height": 33, "data": {"name": "f6x"}, "transform": [{"fold": ["up","lo","val"]},{"filter": "isValid(datum.value)"}], "mark": {"type": "line", "strokeWidth": 0.7},
   "encoding": {"x": {"field": "t", "type": "quantitative", "scale": {"domain": [0,10000], "nice": false}, "axis": {"values": [0,5000,10000], "format": "d", "title": "Time (sec)"}}, "y": {"field": "value", "type": "quantitative", "scale": {"domain": [-5,5], "nice": false}, "axis": {"values": [-5,0,5], "title": "Error (m)"}}, "color": {"field": "key", "type": "nominal", "scale": {"domain": ["up","lo","val"], "range": ["#ff0000","#ff0000","#0000ff"]}, "legend": null}}},
  {"title": "Feature 6 - y", "width": 57, "height": 33, "data": {"name": "f6y"}, "transform": [{"fold": ["up","lo","val"]},{"filter": "isValid(datum.value)"}], "mark": {"type": "line", "strokeWidth": 0.7},
   "encoding": {"x": {"field": "t", "type": "quantitative", "scale": {"domain": [0,10000], "nice": false}, "axis": {"values": [0,5000,10000], "format": "d", "title": "Time (sec)"}}, "y": {"field": "value", "type": "quantitative", "scale": {"domain": [-5,5], "nice": false}, "axis": {"values": [-5,0,5], "title": "Error (m)"}}, "color": {"field": "key", "type": "nominal", "scale": {"domain": ["up","lo","val"], "range": ["#ff0000","#ff0000","#0000ff"]}, "legend": null}}},
  {"title": "Feature 7 - x", "width": 57, "height": 33, "data": {"name": "f7x"}, "transform": [{"fold": ["up","lo","val"]},{"filter": "isValid(datum.value)"}], "mark": {"type": "line", "strokeWidth": 0.7},
   "encoding": {"x": {"field": "t", "type": "quantitative", "scale": {"domain": [0,10000], "nice": false}, "axis": {"values": [0,5000,10000], "format": "d", "title": "Time (sec)"}}, "y": {"field": "value", "type": "quantitative", "scale": {"domain": [-5,5], "nice": false}, "axis": {"values": [-5,0,5], "title": "Error (m)"}}, "color": {"field": "key", "type": "nominal", "scale": {"domain": ["up","lo","val"], "range": ["#ff0000","#ff0000","#0000ff"]}, "legend": null}}},
  {"title": "Feature 7 - y", "width": 57, "height": 33, "data": {"name": "f7y"}, "transform": [{"fold": ["up","lo","val"]},{"filter": "isValid(datum.value)"}], "mark": {"type": "line", "strokeWidth": 0.7},
   "encoding": {"x": {"field": "t", "type": "quantitative", "scale": {"domain": [0,10000], "nice": false}, "axis": {"values": [0,5000,10000], "format": "d", "title": "Time (sec)"}}, "y": {"field": "value", "type": "quantitative", "scale": {"domain": [-5,5], "nice": false}, "axis": {"values": [-5,0,5], "title": "Error (m)"}}, "color": {"field": "key", "type": "nominal", "scale": {"domain": ["up","lo","val"], "range": ["#ff0000","#ff0000","#0000ff"]}, "legend": null}}},
  {"title": "Feature 8 - x", "width": 57, "height": 33, "data": {"name": "f8x"}, "transform": [{"fold": ["up","lo","val"]},{"filter": "isValid(datum.value)"}], "mark": {"type": "line", "strokeWidth": 0.7},
   "encoding": {"x": {"field": "t", "type": "quantitative", "scale": {"domain": [0,10000], "nice": false}, "axis": {"values": [0,5000,10000], "format": "d", "title": "Time (sec)"}}, "y": {"field": "value", "type": "quantitative", "scale": {"domain": [-2,2], "nice": false}, "axis": {"values": [-2,0,2], "title": "Error (m)"}}, "color": {"field": "key", "type": "nominal", "scale": {"domain": ["up","lo","val"], "range": ["#ff0000","#ff0000","#0000ff"]}, "legend": null}}},
  {"title": "Feature 8 - y", "width": 57, "height": 33, "data": {"name": "f8y"}, "transform": [{"fold": ["up","lo","val"]},{"filter": "isValid(datum.value)"}], "mark": {"type": "line", "strokeWidth": 0.7},
   "encoding": {"x": {"field": "t", "type": "quantitative", "scale": {"domain": [0,10000], "nice": false}, "axis": {"values": [0,5000,10000], "format": "d", "title": "Time (sec)"}}, "y": {"field": "value", "type": "quantitative", "scale": {"domain": [-2,2], "nice": false}, "axis": {"values": [-2,0,2], "title": "Error (m)"}}, "color": {"field": "key", "type": "nominal", "scale": {"domain": ["up","lo","val"], "range": ["#ff0000","#ff0000","#0000ff"]}, "legend": null}}}
  ]}
 ]}
],
"config": {
 "font": "Liberation Sans",
 "view": {"stroke": "#262626", "strokeWidth": 0.8},
 "axis": {"domain": false, "grid": false, "tickColor": "#262626", "tickSize": -3, "labelFontSize": 10, "labelColor": "#262626", "labelPadding": 5, "labelFlush": false, "labelOverlap": false, "titleFontSize": 10.5, "titleFontWeight": "normal", "titleColor": "#262626", "titlePadding": 2},
 "title": {"fontSize": 10.5, "fontWeight": "bold", "color": "#000000", "offset": 3, "anchor": "middle"}
}
}
